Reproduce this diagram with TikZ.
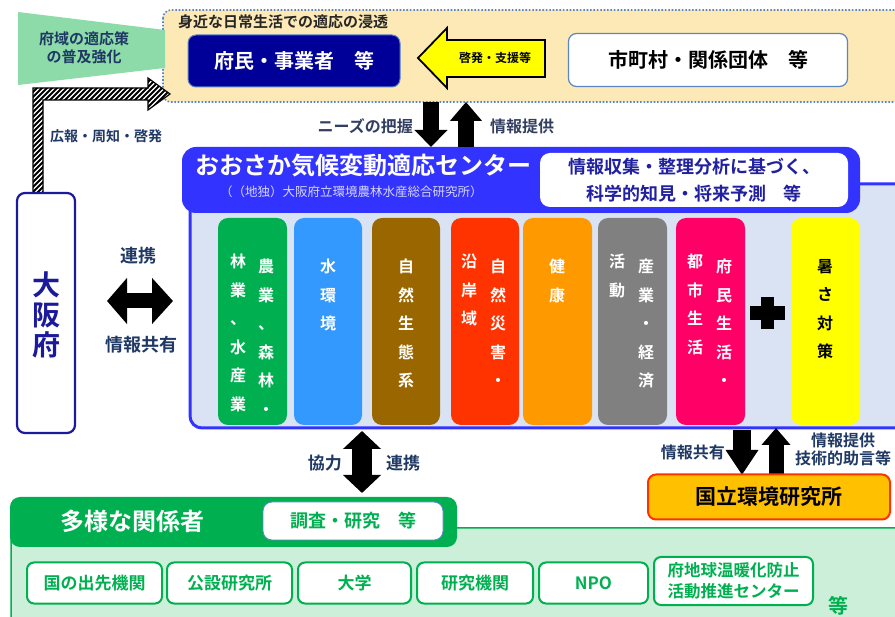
\documentclass[tikz,border=0pt]{standalone}
\usepackage{fontspec}
\setmainfont{Noto Sans CJK JP}[BoldFont={Noto Sans CJK JP Bold}]
\usetikzlibrary{arrows.meta}
\definecolor{topfill}{HTML}{FDE9B6}
\definecolor{dotb}{HTML}{5B86C5}
\definecolor{trap}{HTML}{8DDBA9}
\definecolor{navytxt}{HTML}{1F3864}
\definecolor{navybox}{HTML}{000099}
\definecolor{hdrblue}{HTML}{3333FF}
\definecolor{panel}{HTML}{DAE3F3}
\definecolor{cgreen}{HTML}{00B050}
\definecolor{cblue}{HTML}{3399FF}
\definecolor{cbrown}{HTML}{996600}
\definecolor{cred}{HTML}{FF3300}
\definecolor{corange}{HTML}{FF9900}
\definecolor{cgray}{HTML}{808080}
\definecolor{cpink}{HTML}{FF0066}
\definecolor{cyellow}{HTML}{FFFF00}
\definecolor{niesfill}{HTML}{FFC000}
\definecolor{lgreen}{HTML}{CCEFD9}
\definecolor{infotxt}{HTML}{2020A0}
\definecolor{osaka}{HTML}{1A1A9A}
\definecolor{graytxt}{HTML}{333F60}
\tikzset{
  fs/.style={font=\fontsize{#1}{#1}\selectfont\bfseries},
  lbl/.style={inner sep=0pt, text=navytxt},
  col/.style={fill=#1, rounded corners=10pt, draw=none},
  vtext/.style={inner sep=0pt, align=center, text=white,
     font=\fontsize{16}{28.5}\selectfont\bfseries, anchor=north},
  orgbox/.style={draw=cgreen, line width=2pt, fill=white, rounded corners=7pt,
     text=cgreen, font=\fontsize{17}{20}\selectfont\bfseries, inner sep=0pt, align=center},
  blkarrow/.style={draw=black, line width=#1}
}
\begin{document}
\begin{tikzpicture}[x=1pt,y=-1pt]
\useasboundingbox (0,0) rectangle (895,617);
\fill[white] (0,0) rectangle (895,617);

% ---------- top region ----------
\draw[fill=topfill, draw=dotb, line width=1.6pt, dash pattern=on 1.6pt off 1.8pt, rounded corners=8pt]
  (163,10) rectangle (910,102);
\fill[trap] (18,12) -- (165,30) -- (165,68) -- (18,85) -- cycle;
\node[lbl, fs=15, align=center] (fuiki) at (84,48) {府域の適応策\\[3pt]の普及強化};
\node[lbl, fs=15, anchor=west, text=black!85] (mijika) at (178,22) {身近な日常生活での適応の浸透};
\node[fill=navybox, draw=dotb, line width=1pt, rounded corners=8pt, minimum width=212pt, minimum height=52pt,
      text=white, fs=20] (fumin) at (294,61) {府民・事業者\quad 等};
\node[fill=white, draw=dotb, line width=1.2pt, rounded corners=8pt, minimum width=279pt, minimum height=53pt,
      text=black, fs=20] (shicho) at (708,60) {市町村・関係団体\quad 等};
% yellow arrow
\draw[fill=cyellow, draw=black, line width=1.8pt, line join=miter]
  (545,40) -- (447,40) -- (447,28) -- (418,58) -- (447,88) -- (447,77) -- (545,77) -- cycle;
\node[inner sep=0pt, fs=12, text=black] (keihatsu) at (495,58) {啓発・支援等};

% ---------- hatched arrow ----------
\begin{scope}
\clip (33,193) -- (33,88) -- (148,88) -- (148,78) -- (170,94) -- (148,110) -- (148,100) -- (43,100) -- (43,193) -- cycle;
\fill[white] (0,0) rectangle (200,200);
\foreach \i in {-100,-95,...,170} \draw[line width=1.9pt] (\i,200) -- ++(200,-200);
\end{scope}
\draw[line width=1.2pt, line join=miter] (33,193) -- (33,88) -- (148,88) -- (148,78) -- (170,94) -- (148,110) -- (148,100) -- (43,100) -- (43,193);
\node[lbl, fs=14, anchor=west] (kouhou) at (50,136) {広報・周知・啓発};

% ---------- Osaka prefecture ----------
\node[draw=osaka, line width=2.2pt, fill=white, rounded corners=8pt, minimum width=58pt, minimum height=240pt] (osakafu) at (46,313) {};
\node[inner sep=0pt, align=center, text=osaka, font=\fontsize{28}{30}\selectfont\bfseries] (osakatxt) at (46,315) {大\\阪\\府};

% horizontal double arrow
\coordinate (hA) at (107,301);
\coordinate (hB) at (173,301);
\draw[blkarrow=15pt, {Triangle[length=20pt,width=45pt]}-{Triangle[length=21pt,width=45pt]}] (hA) -- (hB);
\node[lbl, fs=18, text=navytxt] (renkei1) at (138,256) {連携};
\node[lbl, fs=18, text=navytxt] (kyouyu1) at (141,345) {情報共有};

% ---------- centre ----------
\draw[fill=panel, draw=hdrblue, line width=3pt, rounded corners=12pt] (190,184) rectangle (915,428);
\fill[hdrblue, rounded corners=14pt] (182,147) rectangle (860,213);
\node[fill=white, rounded corners=10pt, minimum width=308pt, minimum height=54pt, inner sep=0pt, align=center,
      text=infotxt, font=\fontsize{18}{27}\selectfont\bfseries] (info) at (694,180) {情報収集・整理分析に基づく、\\科学的知見・将来予測\quad 等};
\node[inner sep=0pt, anchor=west, text=white, fs=24] (center) at (195,166) {おおさか気候変動適応センター};
\node[inner sep=0pt, anchor=west, text=white!80!hdrblue, font=\fontsize{12.5}{13}\selectfont] (sub) at (220,192) {（（地独）大阪府立環境農林水産総合研究所）};

% columns
\node[col=cgreen, minimum width=69pt, minimum height=207pt] (c1) at (252.5,321.5) {};
\node[vtext] at (266,259) {農\\業\\、\\森\\林\\・};
\node[vtext] at (238,254) {林\\業\\、\\水\\産\\業};
\node[col=cblue, minimum width=68pt, minimum height=207pt] (c2) at (328,321.5) {};
\node[vtext] at (328,259) {水\\環\\境};
\node[col=cbrown, minimum width=68pt, minimum height=207pt] (c3) at (406,321.5) {};
\node[vtext] at (406,259) {自\\然\\生\\態\\系};
\node[col=cred, minimum width=68pt, minimum height=207pt] (c4) at (485,321.5) {};
\node[vtext] at (498,259) {自\\然\\災\\害\\・};
\node[vtext] at (469,254) {沿\\岸\\域};
\node[col=corange, minimum width=69pt, minimum height=207pt] (c5) at (557.5,321.5) {};
\node[vtext] at (557,259) {健\\康};
\node[col=cgray, minimum width=69pt, minimum height=207pt] (c6) at (632.5,321.5) {};
\node[vtext] at (646,259) {産\\業\\・\\経\\済};
\node[vtext] at (617,254) {活\\動};
\node[col=cpink, minimum width=69pt, minimum height=207pt] (c7) at (710.5,321.5) {};
\node[vtext] at (724,259) {府\\民\\生\\活\\・};
\node[vtext] at (695,254) {都\\市\\生\\活};
\node[col=cyellow, minimum width=69pt, minimum height=207pt] (c8) at (825.5,321.5) {};
\node[vtext, text=black] at (825,259) {暑\\さ\\対\\策};
% plus sign
\fill[black] (750,306) rectangle (785,320);
\fill[black] (761,297) rectangle (774,329);

% arrows top <-> centre
\coordinate (dnA) at (431,102);
\coordinate (dnB) at (431,147);
\coordinate (upA) at (466,147);
\coordinate (upB) at (466,102);
\draw[blkarrow=16pt, -{Triangle[length=17pt,width=32pt]}] (dnA) -- (dnB);
\draw[blkarrow=16pt, -{Triangle[length=19pt,width=31pt]}] (upA) -- (upB);
\node[lbl, fs=16, anchor=east, text=graytxt] (needs) at (413,126) {ニーズの把握};
\node[lbl, fs=16, anchor=west, text=graytxt] (teikyo1) at (490,126) {情報提供};

% vertical double arrow
\coordinate (vA) at (362,431);
\coordinate (vB) at (362,493);
\draw[blkarrow=20pt, {Triangle[length=18pt,width=37pt]}-{Triangle[length=18pt,width=37pt]}] (vA) -- (vB);
\node[lbl, fs=17, anchor=east] (kyouryoku) at (342,463) {協力};
\node[lbl, fs=17, anchor=west] (renkei2) at (386,463) {連携};

% right arrows
\coordinate (rdA) at (742,430);
\coordinate (rdB) at (742,475);
\coordinate (ruA) at (776,475);
\coordinate (ruB) at (776,428);
\draw[blkarrow=18pt, -{Triangle[length=25pt,width=31pt]}] (rdA) -- (rdB);
\draw[blkarrow=15pt, -{Triangle[length=17pt,width=28pt]}] (ruA) -- (ruB);
\node[lbl, fs=16, anchor=east] (kyouyu2) at (725,452) {情報共有};
\node[lbl, fs=16, align=center] (teikyo2) at (843,449) {情報提供\\[2pt]技術的助言等};

% NIES
\node[fill=niesfill, draw=cred, line width=2pt, rounded corners=8pt, minimum width=242pt, minimum height=45pt,
      text=black, fs=21] (nies) at (769,497) {国立環境研究所};

% ---------- bottom ----------
\draw[fill=lgreen, draw=cgreen, line width=1.5pt, rounded corners=12pt] (11,528) rectangle (915,650);
\fill[cgreen, rounded corners=10pt] (10,497) rectangle (457,547);
\node[inner sep=0pt, text=white, fs=24] (tayou) at (132,521) {多様な関係者};
\node[fill=white, draw=dotb, line width=0.8pt, rounded corners=9pt, minimum width=180pt, minimum height=38pt,
      text=cgreen, fs=18] (chousa) at (353,521) {調査・研究\quad 等};

\node[orgbox, minimum width=135pt, minimum height=41pt] (o1) at (94.5,583) {国の出先機関};
\node[orgbox, minimum width=125pt, minimum height=41pt] (o2) at (229.5,583) {公設研究所};
\node[orgbox, minimum width=113pt, minimum height=41pt] (o3) at (354.5,583) {大学};
\node[orgbox, minimum width=116pt, minimum height=41pt] (o4) at (475,583) {研究機関};
\node[orgbox, minimum width=109pt, minimum height=41pt] (o5) at (593.5,583) {NPO};
\node[orgbox, minimum width=159pt, minimum height=48pt, font=\fontsize{16.5}{21}\selectfont\bfseries] (o6) at (733.5,581) {府地球温暖化防止\\活動推進センター};
\node[inner sep=0pt, text=cgreen, fs=20] (tou) at (838,606) {等};
\end{tikzpicture}
\end{document}
